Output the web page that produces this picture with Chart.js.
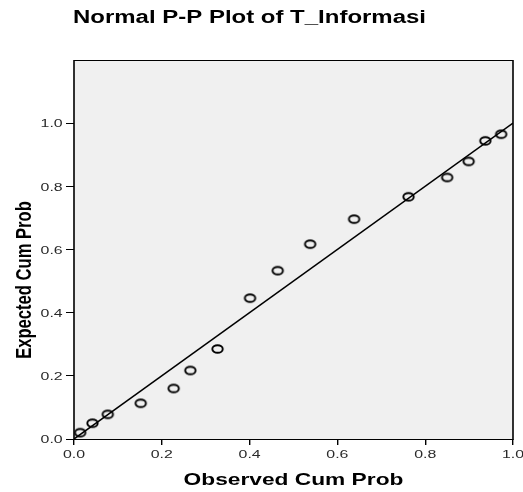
<!DOCTYPE html>
<html lang="en">
<head>
  <meta charset="UTF-8" />
  <title>Normal P-P Plot of T_Informasi</title>
  <script src="https://cdn.jsdelivr.net/npm/chart.js"></script>
  <style>
    * { margin: 0; padding: 0; box-sizing: border-box; }
    body { background: #ffffff; }
    #wrap { width: 523px; height: 492px; }
  </style>
</head>
<body>
  <div id="wrap">
    <canvas id="ppChart" width="523" height="492"></canvas>
  </div>

  <script>
    // observed vs expected cumulative probabilities
    const observedCum = [0.014, 0.042, 0.077, 0.152, 0.227, 0.265, 0.327, 0.401,
                         0.464, 0.538, 0.638, 0.762, 0.850, 0.899, 0.937, 0.973];
    const expectedCum = [0.020, 0.050, 0.078, 0.113, 0.160, 0.217, 0.285, 0.446,
                         0.533, 0.617, 0.696, 0.767, 0.828, 0.879, 0.944, 0.965];

    // the diagonal reference line
    const refLineX = [0, 1];
    const refLineY = [0, 1];

    const xTicks = [0, 0.2, 0.4, 0.6, 0.8, 1.0];
    const yTicks = [0, 0.2, 0.4, 0.6, 0.8, 1.0];

    const chartTitle = 'Normal P-P Plot of T_Informasi';
    const xTitle = 'Observed Cum Prob';
    const yTitle = 'Expected Cum Prob';

    // the source image is stretched sideways, so text is drawn wider than tall
    const STRETCH = 1.37;
    const FONT = '"Liberation Sans", Arial, sans-serif';

    // open ellipse marker
    const marker = document.createElement('canvas');
    marker.width = 15;
    marker.height = 12;
    (function () {
      const c = marker.getContext('2d');
      c.save();
      c.translate(7.5, 6);
      c.scale(STRETCH, 1);
      c.beginPath();
      c.arc(0, 0, 3.8, 0, Math.PI * 2);
      c.restore();
      c.lineWidth = 1.9;
      c.strokeStyle = '#000';
      c.stroke();
    })();

    function wideText(ctx, text, x, y, font, align, baseline, rotate) {
      ctx.save();
      ctx.translate(x, y);
      ctx.scale(STRETCH, 1);
      if (rotate) ctx.rotate(-Math.PI / 2);
      ctx.font = font;
      ctx.textAlign = align;
      ctx.textBaseline = baseline;
      ctx.fillText(text, 0, 0);
      ctx.restore();
    }

    const frame = {
      id: 'frame',
      beforeDraw(chart) {
        const { ctx, chartArea: a } = chart;
        ctx.save();
        ctx.fillStyle = '#ffffff';
        ctx.fillRect(0, 0, chart.width, chart.height);
        ctx.fillStyle = '#f0f0f0';
        ctx.fillRect(a.left, a.top, a.right - a.left, a.bottom - a.top);
        ctx.restore();
      },
      afterDraw(chart) {
        const { ctx, chartArea: a, scales } = chart;
        ctx.save();
        ctx.strokeStyle = '#000';
        ctx.lineWidth = 1;
        ctx.beginPath();
        ctx.moveTo(a.left, a.top + 0.5);
        ctx.lineTo(a.right, a.top + 0.5);
        ctx.moveTo(a.left, a.bottom + 0.5);
        ctx.lineTo(a.right, a.bottom + 0.5);
        ctx.stroke();
        ctx.lineWidth = 1.6;
        ctx.beginPath();
        ctx.moveTo(a.left, a.top);
        ctx.lineTo(a.left, a.bottom + 1);
        ctx.moveTo(a.right, a.top);
        ctx.lineTo(a.right, a.bottom + 1);
        ctx.stroke();

        // tick labels
        ctx.fillStyle = '#2a2a2a';
        const tickFont = '11.6px ' + FONT;
        xTicks.forEach(v => {
          wideText(ctx, v.toFixed(1), scales.x.getPixelForValue(v), 458, tickFont, 'center', 'alphabetic');
        });
        yTicks.forEach(v => {
          wideText(ctx, v.toFixed(1), a.left - 11.3, scales.y.getPixelForValue(v) + 4.2, tickFont, 'right', 'alphabetic');
        });

        // titles
        ctx.fillStyle = '#000';
        wideText(ctx, chartTitle, 73, 22.5, 'bold 17.5px ' + FONT, 'left', 'alphabetic');
        wideText(ctx, xTitle, (a.left + a.right) / 2, 485, 'bold 16.6px ' + FONT, 'center', 'alphabetic');
        wideText(ctx, yTitle, 31, 280, 'bold 16.6px ' + FONT, 'center', 'alphabetic', true);
        ctx.restore();
      }
    };

    new Chart(document.getElementById('ppChart'), {
      type: 'scatter',
      data: {
        datasets: [
          {
            label: 'Observed',
            data: observedCum.map((x, i) => ({ x: x, y: expectedCum[i] })),
            pointStyle: marker,
            pointRadius: 5,
            showLine: false
          },
          {
            label: 'Reference',
            data: refLineX.map((x, i) => ({ x: x, y: refLineY[i] })),
            showLine: true,
            borderColor: '#000',
            borderWidth: 1.5,
            pointRadius: 0,
            fill: false
          }
        ]
      },
      options: {
        responsive: false,
        animation: false,
        devicePixelRatio: 1,
        layout: { padding: { top: 60, right: 10, left: 0, bottom: 0 } },
        plugins: {
          legend: { display: false },
          tooltip: { enabled: false },
          title: { display: false }
        },
        scales: {
          x: {
            type: 'linear',
            min: 0,
            max: 1,
            afterBuildTicks: s => { s.ticks = xTicks.map(v => ({ value: v })); },
            afterFit: s => { s.height = 53; s.paddingLeft = 0; s.paddingRight = 0; },
            ticks: { display: false },
            border: { display: false },
            grid: { drawOnChartArea: false, drawTicks: true, tickLength: 6, color: '#000', lineWidth: 1.4 }
          },
          y: {
            type: 'linear',
            min: 0,
            max: 1.2,
            afterBuildTicks: s => { s.ticks = yTicks.map(v => ({ value: v })); },
            afterFit: s => { s.width = 74; s.paddingTop = 0; s.paddingBottom = 0; },
            ticks: { display: false },
            border: { display: false },
            grid: { drawOnChartArea: false, drawTicks: true, tickLength: 8, color: '#000', lineWidth: 1 }
          }
        }
      },
      plugins: [frame]
    });
  </script>
</body>
</html>
